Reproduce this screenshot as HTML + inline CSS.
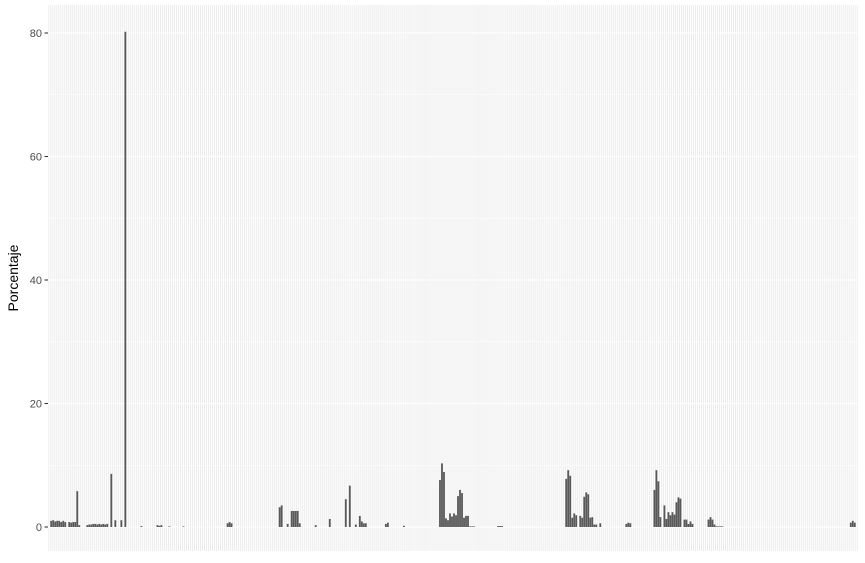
<!DOCTYPE html>
<html><head><meta charset="utf-8"><style>
body{margin:0;background:#fff;}
svg{display:block;font-family:"Liberation Sans",sans-serif;}
</style></head><body>
<svg id="chart" width="865" height="563"></svg>
<script>
const nCategories = 404;
const categories = [1,2,3,4,5,6,7,8,10,11,12,13,14,15,19,20,21,22,23,24,25,26,27,28,29,31,33,36,38,46,54,55,56,60,67,89,90,91,115,116,119,121,122,123,124,125,133,140,148,150,153,155,156,157,158,168,169,177,195,196,197,198,199,200,201,202,203,204,205,206,207,208,209,210,211,212,224,225,226,258,259,260,261,262,263,265,266,267,268,269,270,271,272,273,275,288,289,290,302,303,304,305,307,308,309,310,311,312,313,314,315,317,318,319,320,321,329,330,331,332,333,334,335,336,400,401,402];
const values = [1.0,1.1,0.9,1.0,1.0,0.8,1.0,0.8,0.8,0.7,0.8,0.8,5.8,0.3,0.3,0.4,0.4,0.5,0.5,0.4,0.5,0.4,0.5,0.4,0.5,8.6,1.1,1.1,80.2,0.15,0.3,0.2,0.3,0.1,0.1,0.6,0.8,0.6,3.2,3.5,0.5,2.6,2.6,2.6,2.6,0.6,0.3,1.3,4.5,6.7,0.4,1.8,0.9,0.6,0.6,0.5,0.7,0.2,7.6,10.3,8.9,1.4,1.1,2.2,1.7,2.2,1.9,5.0,6.0,5.5,1.5,1.8,1.8,0.1,0.1,0.1,0.15,0.15,0.15,7.8,9.2,8.3,1.5,2.2,1.9,1.8,1.5,4.9,5.6,5.3,1.5,1.6,0.4,0.4,0.6,0.5,0.7,0.6,6.0,9.2,7.4,1.6,3.5,1.3,2.4,1.9,2.4,2.0,4.0,4.8,4.6,1.2,1.2,0.5,0.9,0.5,1.2,1.6,1.2,0.4,0.1,0.1,0.1,0.1,0.7,1.0,0.7];
const yTicks = [0,20,40,60,80];
const yMinor = [10,30,50,70];

const NS="http://www.w3.org/2000/svg";
const svg=document.getElementById('chart');
const L=48,R=858,T=5,B=551;
const y0=527,y80=33;
function yScale(v){return y0-(v/80)*(y0-y80);}
const bw=(R-L)/(nCategories+0.2);
function xScale(i){return L+(i+0.6)*bw;}
function mk(tag,attrs){const e=document.createElementNS(NS,tag);for(const k in attrs)e.setAttribute(k,attrs[k]);svg.appendChild(e);return e;}

const panel=mk('rect',{x:L,y:T,width:R-L,height:B-T,fill:'#EBEBEB'});


yMinor.forEach(v=>{const l=mk('line',{x1:L,x2:R,y1:yScale(v),y2:yScale(v),stroke:'#fff','stroke-width':0.5});

});
yTicks.forEach(v=>{const l=mk('line',{x1:L,x2:R,y1:yScale(v),y2:yScale(v),stroke:'#fff','stroke-width':1.1});

});
for(let i=0;i<nCategories;i++){const l=mk('line',{x1:xScale(i),x2:xScale(i),y1:T,y2:B,stroke:'#fff','stroke-width':1.05});

}
categories.forEach((c,k)=>{const w=bw*0.9;const top=yScale(values[k]);
const r=mk('rect',{x:xScale(c)-w/2,y:top,width:w,height:y0-top,fill:'#595959'});

});
yTicks.forEach(v=>{const y=yScale(v);
const t=mk('line',{x1:44.5,x2:L,y1:y,y2:y,stroke:'#333','stroke-width':1.07});


const tx=mk('text',{x:42,y:y+3.8,'text-anchor':'end','font-size':11,fill:'#4D4D4D'});
tx.textContent=v;

});
const ti=mk('text',{x:0,y:0,transform:'translate(18,278) rotate(-90)','text-anchor':'middle','font-size':14,fill:'#000'});
ti.textContent='Porcentaje';


</script>
</body></html>
